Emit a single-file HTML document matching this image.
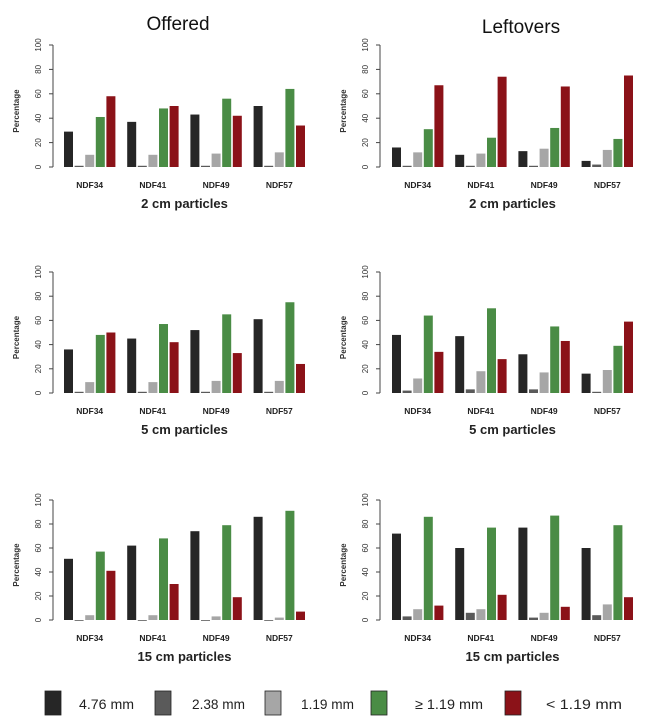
<!DOCTYPE html>
<html><head><meta charset="utf-8"><style>
body{margin:0;background:#fff;}
svg{display:block;font-family:"Liberation Sans",Arial,sans-serif;}
</style></head><body>
<svg id="c" width="650" height="724"></svg>
<script>
const groups=["NDF34","NDF41","NDF49","NDF57"];
const seriesNames=["4.76 mm","2.38 mm","1.19 mm","≥ 1.19 mm","< 1.19 mm"];
const seriesColors=["#262626","#5a5a5a","#a6a6a6","#4a8c45","#8b1218"];
const yTicks=[0,20,40,60,80,100];
const rowTitles=["2 cm particles","5 cm particles","15 cm particles"];
const off2_black=[29,37,43,50], off2_dg=[1,1,1,1], off2_lg=[10,10,11,12], off2_green=[41,48,56,64], off2_red=[58,50,42,34];
const left2_black=[16,10,13,5], left2_dg=[1,1,1,2], left2_lg=[12,11,15,14], left2_green=[31,24,32,23], left2_red=[67,74,66,75];
const off5_black=[36,45,52,61], off5_dg=[1,1,1,1], off5_lg=[9,9,10,10], off5_green=[48,57,65,75], off5_red=[50,42,33,24];
const left5_black=[48,47,32,16], left5_dg=[2,3,3,1], left5_lg=[12,18,17,19], left5_green=[64,70,55,39], left5_red=[34,28,43,59];
const off15_black=[51,62,74,86], off15_dg=[0,0,0,0], off15_lg=[4,4,3,2], off15_green=[57,68,79,91], off15_red=[41,30,19,7];
const left15_black=[72,60,77,60], left15_dg=[3,6,2,4], left15_lg=[9,9,6,13], left15_green=[86,77,87,79], left15_red=[12,21,11,19];

const panels=[
 {col:0,row:0,data:[off2_black,off2_dg,off2_lg,off2_green,off2_red]},
 {col:1,row:0,data:[left2_black,left2_dg,left2_lg,left2_green,left2_red]},
 {col:0,row:1,data:[off5_black,off5_dg,off5_lg,off5_green,off5_red]},
 {col:1,row:1,data:[left5_black,left5_dg,left5_lg,left5_green,left5_red]},
 {col:0,row:2,data:[off15_black,off15_dg,off15_lg,off15_green,off15_red]},
 {col:1,row:2,data:[left15_black,left15_dg,left15_lg,left15_green,left15_red]}
];
const NS="http://www.w3.org/2000/svg";
const svg=document.getElementById('c');
function mk(t,a,p){const e=document.createElementNS(NS,t);for(const k in a)e.setAttribute(k,a[k]);(p||svg).appendChild(e);return e;}
const colAxisX=[53,380], colBarX=[64,392];
const rowTop=[45,272,500], rowZero=[167,393,620];
const pitch=63.2, bstep=10.6, bw=9;

let t=mk('text',{x:178,y:30,'font-size':19,'text-anchor':'middle',fill:'#111'});t.textContent='Offered';


t=mk('text',{x:521,y:33,'font-size':19,'text-anchor':'middle',fill:'#111'});t.textContent='Leftovers';



panels.forEach((p)=>{
 const g=mk('g',{});
 
 
 const ax=colAxisX[p.col], top=rowTop[p.row], zero=rowZero[p.row];
 const y=v=>zero-(zero-top)*v/100;
 const x=(gi,si)=>colBarX[p.col]+gi*pitch+si*bstep;
 mk('line',{x1:ax,x2:ax,y1:y(0),y2:y(100),stroke:'#444','stroke-width':1},g);
 yTicks.forEach(v=>{
  mk('line',{x1:ax-4,x2:ax,y1:y(v),y2:y(v),stroke:'#444','stroke-width':1},g);
  const tt=mk('text',{x:0,y:0,'font-size':8,'text-anchor':'middle',fill:'#333',transform:`translate(${ax-12},${y(v)}) rotate(-90)`},g);
  tt.textContent=v;
  
  
 });
 const yl=mk('text',{x:0,y:0,'font-size':8,'font-weight':'bold','text-anchor':'middle',fill:'#333',transform:`translate(${ax-34},${(top+zero)/2+5}) rotate(-90)`},g);
 yl.textContent='Percentage';
 
 
 p.data.forEach((arr,si)=>{
  arr.forEach((v,gi)=>{
   const r=mk('rect',{x:x(gi,si),y:y(v),width:bw,height:Math.max(zero-y(v),0.8),fill:seriesColors[si]},g);
   
   
  });
 });
 groups.forEach((gn,gi)=>{
  const l=mk('text',{x:x(gi,2)+bw/2,y:zero+21,'font-size':8.5,'font-weight':'bold','text-anchor':'middle',fill:'#222'},g);
  l.textContent=gn;
  
  
 });
 const xt=mk('text',{x:x(1.5,2)+bw/2,y:zero+41,'font-size':13,'font-weight':'bold','text-anchor':'middle',fill:'#222'},g);
 xt.textContent=rowTitles[p.row];
 
 
});
const legX=[45,155,265,371,505], legTX=[79,192,301,415,546], legW=[55,53,53,68,76];
seriesNames.forEach((n,i)=>{
 const g=mk('g',{});
 
 
 mk('rect',{x:legX[i],y:691,width:16,height:24,fill:seriesColors[i],stroke:'#222','stroke-width':0.8},g);
 const tt=mk('text',{x:legTX[i],y:709,'font-size':14,fill:'#222',textLength:legW[i],lengthAdjust:'spacingAndGlyphs'},g);
 tt.textContent=n;
});
</script>
</body></html>
